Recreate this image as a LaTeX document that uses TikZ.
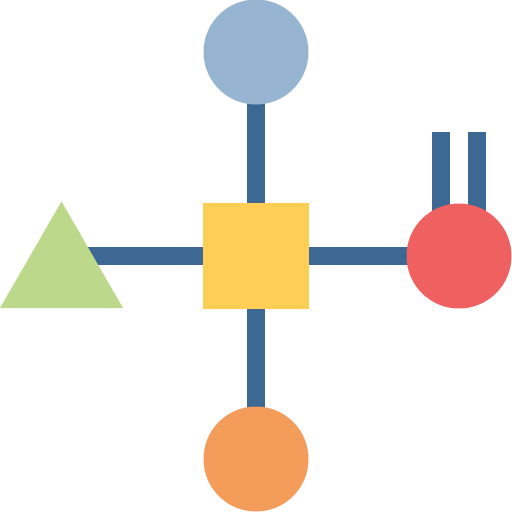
\documentclass[tikz,border=0pt]{standalone}
\usepackage{xcolor}
\usetikzlibrary{shapes.geometric,backgrounds}
\definecolor{linkblue}{HTML}{3D6894}
\definecolor{topblue}{HTML}{97B5D0}
\definecolor{boxyellow}{HTML}{FFCE54}
\definecolor{dotred}{HTML}{EF6060}
\definecolor{dotorange}{HTML}{F49C5A}
\definecolor{trigreen}{HTML}{BCD98B}
\tikzset{
  blob/.style={circle, minimum size=105pt, inner sep=0pt},
  link/.style={line width=18pt, linkblue}
}

\begin{document}
\begin{tikzpicture}[x=1pt, y=-1pt]
\useasboundingbox (0,0) rectangle (512,512);
\node[blob, fill=topblue] (top) at (256,52) {};
\node[blob, fill=dotorange] (bottom) at (256,459) {};
\node[blob, fill=dotred] (right) at (459,256) {};
\node[rectangle, minimum size=106pt, inner sep=0pt, fill=boxyellow] (box) at (256,256) {};
\node[regular polygon, regular polygon sides=3, minimum size=142pt, inner sep=0pt, fill=trigreen] (tri) at (61.5,272.5) {};
\coordinate (plugA) at (441,132);
\coordinate (plugB) at (477,132);
\begin{scope}[on background layer]
\draw[link] (top.center) -- (box.center);
\draw[link] (bottom.center) -- (box.center);
\draw[link] (tri.center |- box.center) -- (right.center);
\draw[link] (plugA) -- (plugA |- right.center);
\draw[link] (plugB) -- (plugB |- right.center);
\end{scope}
\end{tikzpicture}
\end{document}
